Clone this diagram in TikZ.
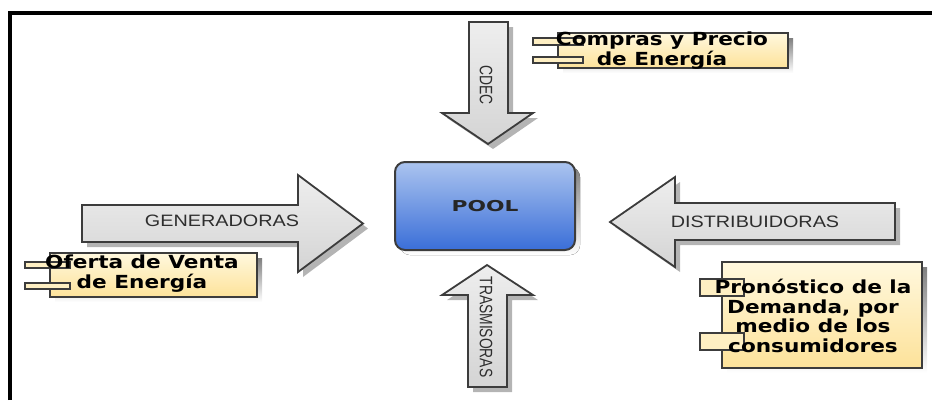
\documentclass[tikz,border=0pt]{standalone}
\usepackage{fontspec}
\usepackage{graphicx}
\newfontfamily\boxfont[FakeStretch=1.2]{DejaVu Sans}
\newfontfamily\poolfont[FakeStretch=1.45]{DejaVu Sans}
\newfontfamily\arrfont[FakeStretch=1.2]{Liberation Sans}
\newfontfamily\vfont{Liberation Sans}
\definecolor{noteTop}{HTML}{FFF8DE}
\definecolor{noteBot}{HTML}{FDE29A}
\definecolor{arrTop}{HTML}{EEEEEE}
\definecolor{arrBot}{HTML}{D4D4D4}
\definecolor{poolTop}{HTML}{ABC4EF}
\definecolor{poolBot}{HTML}{3A6ED8}
\definecolor{edge}{HTML}{3C3C3C}
\definecolor{shade}{HTML}{B4B4B4}
\definecolor{lbl}{HTML}{2E2E2E}
\tikzset{
  arrowshape/.style={draw=edge, line width=1.8pt, top color=arrTop, bottom color=arrBot, line join=miter},
  shadowshape/.style={fill=shade, draw=none},
  notebox/.style={draw=edge, line width=1.4pt, top color=noteTop, bottom color=noteBot},
  tabbox/.style={draw=edge, line width=1.2pt, fill=noteTop!60!noteBot},
  notetext/.style={inner sep=0pt, align=center, text=black, font=\boxfont\bfseries\fontsize{18}{20}\selectfont},
  hlabel/.style={inner sep=0pt, text=lbl, font=\arrfont\fontsize{16.5}{18}\selectfont},
  vlabel/.style={inner sep=0pt, text=lbl, rotate=-90, font=\vfont\fontsize{18}{20}\selectfont},
  poolbox/.style={draw=edge, line width=2pt, rounded corners=10pt, top color=poolTop, bottom color=poolBot,
    minimum width=180pt, minimum height=88pt, inner sep=0pt, text=black!85,
    font=\poolfont\bfseries\fontsize{15}{18}\selectfont},
}
\begin{document}
\begin{tikzpicture}[x=1pt,y=-1pt]
\useasboundingbox (0,0) rectangle (932,400);
% frame
\draw[line width=4pt, line join=miter] (10,400) -- (10,12.5) -- (932,12.5);

% ---------- CDEC arrow (down)
\begin{scope}[shift={(5,5)}]
\fill[shadowshape] (469,22) -- (508,22) -- (508,113) -- (533,113) -- (488,144) -- (442,113) -- (469,113) -- cycle;
\end{scope}
\path[arrowshape] (469,22) -- (508,22) -- (508,113) -- (533,113) -- (488,144) -- (442,113) -- (469,113) -- cycle;
\node[vlabel] (cdec) at (486,85) {\scalebox{0.77}[1]{CDEC}};

% ---------- TRASMISORAS arrow (up)
\begin{scope}[shift={(5,5)}]
\fill[shadowshape] (468,387) -- (507,387) -- (507,295) -- (533,295) -- (487,265) -- (442,295) -- (468,295) -- cycle;
\end{scope}
\path[arrowshape] (468,387) -- (507,387) -- (507,295) -- (533,295) -- (487,265) -- (442,295) -- (468,295) -- cycle;
\node[vlabel] (tras) at (486,327) {\scalebox{0.77}[1]{TRASMISORAS}};

% ---------- GENERADORAS arrow (right)
\begin{scope}[shift={(5,5)}]
\fill[shadowshape] (82,205) -- (298,205) -- (298,175) -- (363,223.5) -- (298,272) -- (298,242) -- (82,242) -- cycle;
\end{scope}
\path[arrowshape] (82,205) -- (298,205) -- (298,175) -- (363,223.5) -- (298,272) -- (298,242) -- (82,242) -- cycle;
\node[hlabel] (gen) at (222,221) {GENERADORAS};

% ---------- DISTRIBUIDORAS arrow (left)
\begin{scope}[shift={(5,5)}]
\fill[shadowshape] (895,203) -- (675,203) -- (675,177) -- (610,222) -- (675,267) -- (675,240) -- (895,240) -- cycle;
\end{scope}
\path[arrowshape] (895,203) -- (675,203) -- (675,177) -- (610,222) -- (675,267) -- (675,240) -- (895,240) -- cycle;
\node[hlabel] (dist) at (755,222) {DISTRIBUIDORAS};

% ---------- POOL
\fill[shade, rounded corners=10pt] (400,167) rectangle (580,255);
\node[poolbox] (pool) at (485,206) {POOL};

% ---------- Compras note
\fill[shade] (563,38) rectangle (793,73);
\path[notebox] (558,33) rectangle (788,68);
\path[tabbox] (533,38) rectangle (583,45);
\path[tabbox] (533,57) rectangle (583,63);
\node[notetext] (compras) at (662,51) {Compras y Precio\\de Energía};

% ---------- Oferta note
\fill[shade] (55,258) rectangle (262,302);
\path[notebox] (50,253) rectangle (257,297);
\path[tabbox] (25,262) rectangle (70,268);
\path[tabbox] (25,283) rectangle (70,289);
\node[notetext] (oferta) at (142,274) {Oferta de Venta\\de Energía};

% ---------- Pronostico note
\fill[shade] (727,267) rectangle (927,373);
\path[notebox] (722,262) rectangle (922,368);
\path[tabbox] (700,279) rectangle (744,296);
\path[tabbox] (700,333) rectangle (744,350);
\node[notetext, font=\boxfont\bfseries\fontsize{18}{19.5}\selectfont] (prono) at (813,316) {Pronóstico de la\\Demanda, por\\medio de los\\consumidores};
\end{tikzpicture}
\end{document}
